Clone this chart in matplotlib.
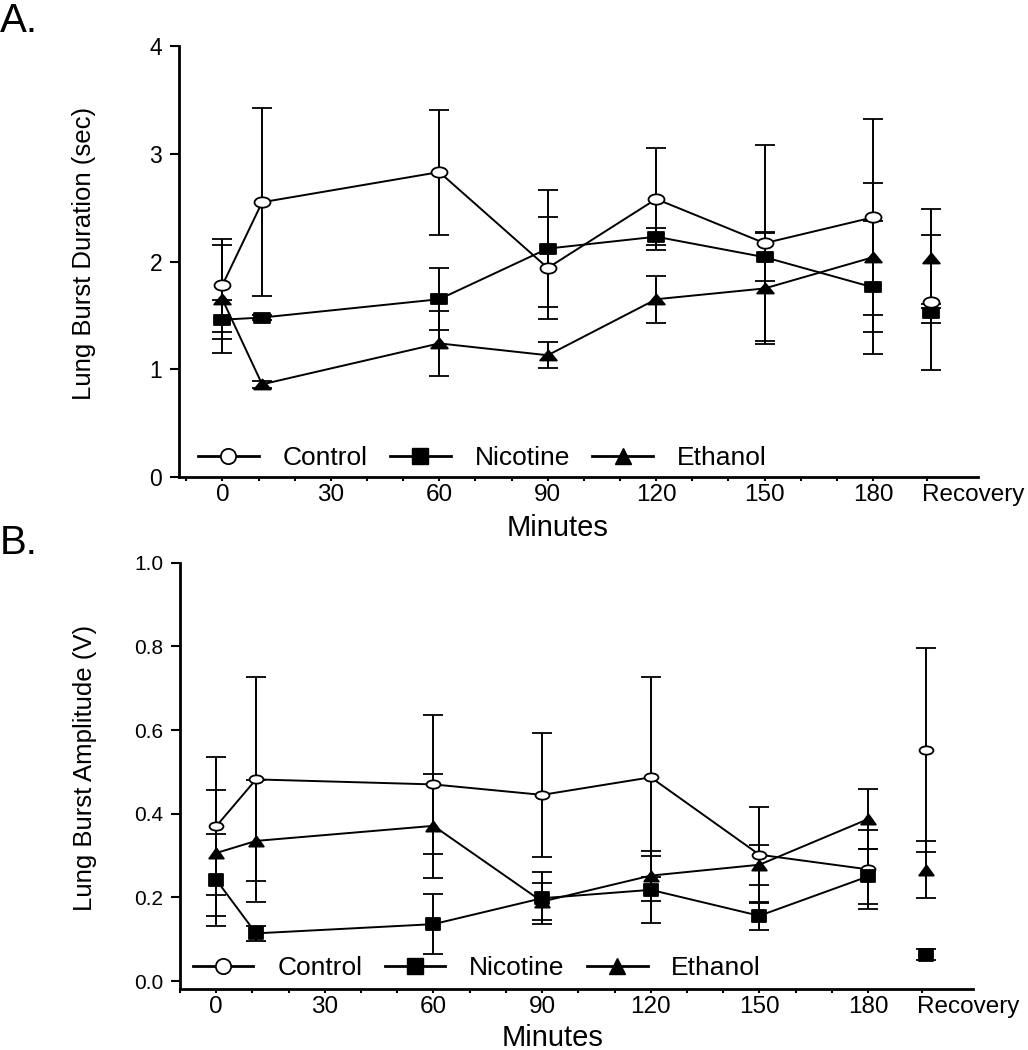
import numpy as np
import matplotlib
matplotlib.use("Agg")
import matplotlib.pyplot as plt
from matplotlib.path import Path
from matplotlib.lines import Line2D
from matplotlib.transforms import ScaledTranslation

plt.rcParams['font.family'] = ['Liberation Sans', 'DejaVu Sans']

# time points (min); last one is the recovery sample
minutes = [0, 11, 60, 90, 120, 150, 180]
recovery_x = 196

# Panel A - lung burst duration (sec)
dur_ctrl = [1.78, 2.55, 2.83, 1.94, 2.58, 2.17, 2.41]
dur_ctrl_err = [0.43, 0.87, 0.58, 0.47, 0.47, 0.91, 0.91]
dur_ctrl_rec, dur_ctrl_rec_err = 1.62, 0.63
dur_nic = [1.46, 1.48, 1.65, 2.12, 2.23, 2.04, 1.76]
dur_nic_err = [0.18, 0.02, 0.29, 0.54, 0.08, 0.22, 0.62]
dur_nic_rec, dur_nic_rec_err = 1.52, 0.09
dur_eth = [1.65, 0.86, 1.24, 1.13, 1.65, 1.75, 2.04]
dur_eth_err = [0.50, 0.03, 0.30, 0.12, 0.22, 0.52, 0.69]
dur_eth_rec, dur_eth_rec_err = 2.03, 0.46

# Panel B - lung burst amplitude (V)
amp_ctrl = [0.37, 0.482, 0.47, 0.445, 0.487, 0.302, 0.267]
amp_ctrl_err = [0.165, 0.244, 0.166, 0.148, 0.239, 0.115, 0.095]
amp_ctrl_rec, amp_ctrl_rec_err = 0.552, 0.243
amp_nic = [0.242, 0.114, 0.136, 0.198, 0.218, 0.156, 0.25]
amp_nic_err = [0.11, 0.018, 0.072, 0.062, 0.08, 0.034, 0.065]
amp_nic_rec, amp_nic_rec_err = 0.063, 0.013
amp_eth = [0.306, 0.335, 0.371, 0.19, 0.252, 0.278, 0.387]
amp_eth_err = [0.15, 0.145, 0.125, 0.045, 0.06, 0.048, 0.072]
amp_eth_rec, amp_eth_rec_err = 0.266, 0.068

tick_pos = [0, 30, 60, 90, 120, 150, 180, 195]
tick_labels = ['0', '30', '60', '90', '120', '150', '180', 'Recovery']
minor_pos = [-10, 10, 20, 40, 50, 70, 80, 100, 110, 130, 140, 160, 170]


def flat_marker(kind, aspect):
    if kind == 'o':
        c = Path.unit_circle()
        return Path(c.vertices * [1, aspect], c.codes)
    if kind == 's':
        v = [(-1, -aspect), (1, -aspect), (1, aspect), (-1, aspect), (-1, -aspect)]
        return Path(v, closed=True)
    v = [(0, aspect), (-1, -aspect), (1, -aspect), (0, aspect)]
    return Path(v, closed=True)


def draw_series(ax, y, err, yr, er, kind, aspect, ms, face):
    m = flat_marker(kind, aspect)
    kw = dict(color='black', marker=m, markersize=ms, markerfacecolor=face,
              markeredgecolor='black', markeredgewidth=1.3, elinewidth=1.4,
              capsize=7.5, capthick=1.4, lw=1.4)
    ax.errorbar(minutes, y, yerr=err, zorder=3, **kw)
    ax.errorbar([recovery_x], [yr], yerr=[er], linestyle='none', zorder=3, **kw)


fig = plt.figure(figsize=(10.28, 10.5), dpi=100)
axA = fig.add_axes([0.1741, 0.5457, 0.7772, 0.4105])
axB = fig.add_axes([0.1751, 0.0581, 0.7714, 0.4060])

draw_series(axA, dur_ctrl, dur_ctrl_err, dur_ctrl_rec, dur_ctrl_rec_err, 'o', 0.65, 11.5, 'white')
draw_series(axA, dur_nic, dur_nic_err, dur_nic_rec, dur_nic_rec_err, 's', 0.65, 12, 'black')
draw_series(axA, dur_eth, dur_eth_err, dur_eth_rec, dur_eth_rec_err, '^', 0.6, 12, 'black')

draw_series(axB, amp_ctrl, amp_ctrl_err, amp_ctrl_rec, amp_ctrl_rec_err, 'o', 0.6, 10, 'white')
draw_series(axB, amp_nic, amp_nic_err, amp_nic_rec, amp_nic_rec_err, 's', 0.85, 9.5, 'black')
draw_series(axB, amp_eth, amp_eth_err, amp_eth_rec, amp_eth_rec_err, '^', 0.7, 10.5, 'black')

axA.set_xlim(-12, 209)
axA.set_ylim(0, 4)
axA.set_yticks([0, 1, 2, 3, 4])
axB.set_xlim(-10, 209)
axB.set_ylim(-0.019, 1.0)
axB.set_yticks([0.0, 0.2, 0.4, 0.6, 0.8, 1.0])
axB.set_yticklabels(['0.0', '0.2', '0.4', '0.6', '0.8', '1.0'])

for ax, ysize in [(axA, 16.5), (axB, 15)]:
    for s in ['top', 'right']:
        ax.spines[s].set_visible(False)
    for s in ['left', 'bottom']:
        ax.spines[s].set_linewidth(2.0)
    ax.set_xticks(tick_pos)
    ax.set_xticklabels(tick_labels)
    ax.set_xticks(minor_pos, minor=True)
    ax.tick_params(axis='x', which='both', direction='out', length=3, width=1.5,
                   pad=2, labelsize=17.5)
    ax.tick_params(axis='y', direction='out', length=6.5, width=1.5, pad=5.5,
                   labelsize=ysize)
    rec = ax.get_xticklabels()[-1]
    rec.set_horizontalalignment('left')
    rec.set_transform(rec.get_transform() + ScaledTranslation(-4 / 72, 0, fig.dpi_scale_trans))

    handles = [
        Line2D([], [], color='black', lw=2, marker='o', ms=11, mfc='white', mec='black', mew=1.3),
        Line2D([], [], color='black', lw=2, marker='s', ms=12, mfc='black', mec='black'),
        Line2D([], [], color='black', lw=2, marker='^', ms=12, mfc='black', mec='black'),
    ]
    anchor = (0.024, 0.044) if ax is axA else (0.016, 0.049)
    ax.legend(handles, ['Control', 'Nicotine', 'Ethanol'], loc='center left',
              bbox_to_anchor=anchor, ncol=3, frameon=False, fontsize=19,
              handlelength=2.3, handletextpad=0.9, columnspacing=0.85,
              borderpad=0, borderaxespad=0)

fig.text(84 / 1028, 1 - 253 / 1050, 'Lung Burst Duration (sec)', rotation=90,
         ha='center', va='center', fontsize=18.5)
fig.text(85 / 1028, 1 - 768 / 1050, 'Lung Burst Amplitude (V)', rotation=90,
         ha='center', va='center', fontsize=18.5)
fig.text(558 / 1028, 1 - 528 / 1050, 'Minutes', ha='center', va='center', fontsize=21)
fig.text(553 / 1028, 1 - 1038 / 1050, 'Minutes', ha='center', va='center', fontsize=21)
fig.text(0.0, 1 - 2 / 1050, 'A.', ha='left', va='top', fontsize=29)
fig.text(0.0, 1 - 524 / 1050, 'B.', ha='left', va='top', fontsize=29)

fig.savefig('out.png', dpi=100)
